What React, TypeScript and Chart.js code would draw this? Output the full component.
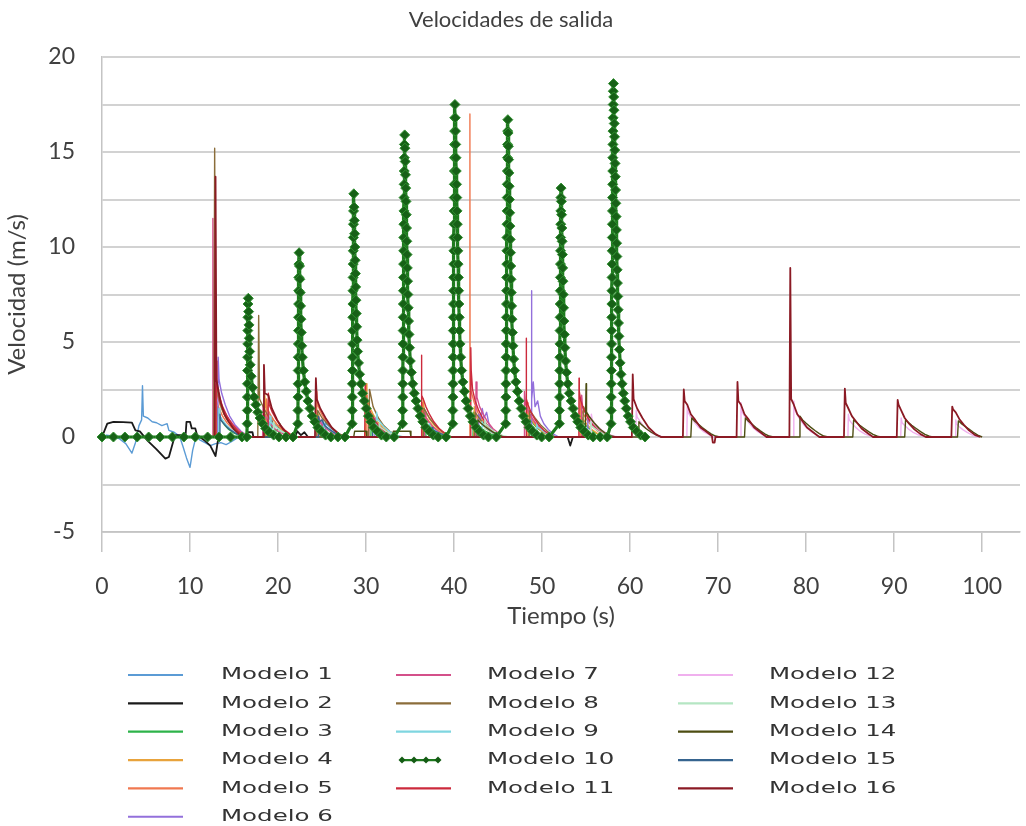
import React, { useEffect, useRef } from 'react';
import { Chart, registerables } from 'chart.js';

Chart.register(...registerables);

type Pt = [number, number];

const TITLE = 'Velocidades de salida';
const X_TITLE = 'Tiempo (s)';
const Y_TITLE = 'Velocidad (m/s)';
const Y_LABELED = [-5, 0, 5, 10, 15, 20];

const seriesNames = [
  'Modelo 1', 'Modelo 2', 'Modelo 3', 'Modelo 4', 'Modelo 5', 'Modelo 6',
  'Modelo 7', 'Modelo 8', 'Modelo 9', 'Modelo 10', 'Modelo 11',
  'Modelo 12', 'Modelo 13', 'Modelo 14', 'Modelo 15', 'Modelo 16',
];

const seriesColors = [
  '#5b9bd5', '#1a1a1a', '#2db34a', '#e8a33c', '#f07850', '#9370db',
  '#d4508a', '#8b6d3a', '#7fd6e0', '#1d7a1d', '#cc2a3c',
  '#f0b0ee', '#b5e6c3', '#4d4d12', '#36648f', '#8b1a24',
];

const modelo1: Pt[] = [[0,0],[0.5,0.1],[1.2,0.05],[2.0,-0.1],[2.7,-0.35],[3.4,-0.85],[3.8,-0.3],[4.2,0.6],[4.5,0.9],[4.6,2.7],[4.7,1.1],[5.2,1.0],[5.7,0.8],[6.2,0.75],[6.8,0.6],[7.4,0.7],[7.6,0.35],[8.2,0.25],[8.8,0.05],[9.2,-0.5],[9.6,-1.1],[10.0,-1.6],[10.3,-0.7],[10.7,0.05],[11.1,-0.15],[11.7,-0.3],[12.3,-0.45],[12.9,-0.35],[13.5,-0.3],[14.1,-0.4],[14.7,-0.25],[15.2,-0.1],[15.5,0],[19.25,0],[19.3,1.0],[19.4,0.75],[19.7,0.6],[20.1,0.42],[20.6,0.25],[21.2,0.1],[21.8,0],[25.35,0],[25.4,0.9],[25.5,0.68],[25.8,0.55],[26.2,0.38],[26.7,0.22],[27.3,0.08],[27.9,0]];

const modelo2: Pt[] = [[0,0],[0.6,0.7],[1.3,0.8],[2.4,0.78],[3.4,0.76],[3.8,0.35],[4.3,0.3],[5.2,-0.2],[6.2,-0.65],[7.2,-1.14],[7.6,-1.05],[8.3,0.1],[9.5,0.1],[9.6,0.8],[10.0,0.8],[10.2,0.45],[10.6,0.45],[10.8,0.1],[11.7,-0.2],[12.3,-0.45],[12.9,-1.0],[13.2,-0.1],[13.6,0],[16.4,0],[16.5,0.25],[17.1,0.25],[17.2,0],[21.9,0],[22.2,0.3],[22.6,0.1],[23.0,0.25],[23.4,0],[52.9,0],[53.2,-0.45],[53.5,0],[56.0,0]];

const modelo3: Pt[] = [[13.05,0],[13.1,1.6],[13.2,1.2],[13.5,0.9],[13.9,0.65],[14.4,0.4],[15.0,0.2],[15.7,0.07],[16.2,0],[18.55,0],[18.6,1.2],[18.7,0.85],[19.0,0.7],[19.4,0.5],[19.9,0.3],[20.2,0.7],[20.3,0.35],[20.9,0.15],[21.5,0.05],[22.0,0],[30.55,0],[30.6,0.8],[30.7,0.6],[31.0,0.45],[31.5,0.3],[32.1,0.15],[32.8,0.05],[33.3,0],[36.75,0],[36.8,0.9],[36.9,0.65],[37.2,0.5],[37.7,0.3],[38.3,0.15],[39.0,0.05],[39.5,0],[42.15,0],[42.2,1.3],[42.3,0.95],[42.6,0.75],[43.0,0.5],[43.6,0.3],[44.2,0.15],[44.9,0.05],[45.4,0],[48.55,0],[48.6,1.2],[48.7,0.9],[49.0,0.7],[49.5,0.45],[50.1,0.25],[50.7,0.1],[51.3,0],[54.55,0],[54.6,1.0],[54.7,0.75],[55.0,0.6],[55.5,0.4],[56.1,0.2],[56.8,0.07],[57.3,0]];

const modelo4: Pt[] = [[12.95,0],[13.0,3.0],[13.1,2.2],[13.4,1.7],[13.8,1.25],[14.3,0.85],[14.9,0.5],[15.6,0.25],[16.3,0.08],[16.8,0],[18.45,0],[18.5,2.2],[18.6,1.6],[18.9,1.3],[19.3,1.0],[19.8,0.7],[20.4,0.4],[21.1,0.18],[21.8,0.05],[22.3,0],[24.55,0],[24.6,1.2],[24.7,0.9],[25.0,0.75],[25.5,0.5],[26.1,0.3],[26.8,0.12],[27.4,0],[29.95,0],[30.0,2.8],[30.1,2.0],[30.4,1.6],[30.8,1.2],[31.3,0.8],[31.9,0.5],[32.6,0.22],[33.3,0.07],[33.8,0],[36.45,0],[36.5,2.0],[36.6,1.5],[36.9,1.2],[37.3,0.9],[37.8,0.6],[38.4,0.35],[39.1,0.12],[39.7,0],[42.25,0],[42.3,1.6],[42.4,1.2],[42.7,0.95],[43.1,0.7],[43.6,0.45],[44.2,0.25],[44.9,0.08],[45.4,0],[48.35,0],[48.4,1.5],[48.5,1.1],[48.8,0.9],[49.2,0.65],[49.7,0.4],[50.3,0.2],[51.0,0.06],[51.5,0],[54.35,0],[54.4,1.4],[54.5,1.05],[54.8,0.85],[55.2,0.6],[55.7,0.38],[56.3,0.18],[57.0,0.05],[57.5,0]];

const modelo5: Pt[] = [[12.85,0],[12.9,2.6],[13.0,1.9],[13.3,1.5],[13.7,1.1],[14.2,0.75],[14.8,0.45],[15.5,0.2],[16.2,0.05],[16.7,0],[18.65,0],[18.7,2.0],[18.8,1.5],[19.1,1.2],[19.5,0.9],[20.0,0.6],[20.6,0.35],[21.3,0.12],[21.9,0],[24.35,0],[24.4,2.4],[24.5,1.7],[24.8,1.35],[25.2,1.0],[25.7,0.7],[26.3,0.4],[27.0,0.15],[27.6,0],[30.05,0],[30.1,2.2],[30.2,1.6],[30.5,1.3],[30.9,0.95],[31.4,0.65],[32.0,0.38],[32.7,0.14],[33.3,0],[36.35,0],[36.4,1.8],[36.5,1.3],[36.8,1.05],[37.2,0.8],[37.7,0.52],[38.3,0.3],[39.0,0.1],[39.6,0],[41.78,0],[41.8,17.0],[41.82,2.6],[42.0,2.3],[42.3,1.8],[42.7,1.3],[43.2,0.9],[43.8,0.55],[44.5,0.25],[45.2,0.08],[45.7,0],[48.25,0],[48.3,1.8],[48.4,1.3],[48.7,1.05],[49.1,0.8],[49.6,0.52],[50.2,0.3],[50.9,0.1],[51.5,0],[54.25,0],[54.3,2.0],[54.4,1.5],[54.7,1.2],[55.1,0.9],[55.6,0.6],[56.2,0.35],[56.9,0.12],[57.5,0]];

const modelo6: Pt[] = [[13.15,0],[13.2,4.2],[13.3,3.0],[13.6,2.3],[14.0,1.7],[14.5,1.1],[15.1,0.65],[15.8,0.3],[16.5,0.08],[17.0,0],[18.85,0],[18.9,1.3],[19.0,1.0],[19.3,0.8],[19.7,0.6],[20.2,0.38],[20.8,0.18],[21.5,0.05],[22.0,0],[24.95,0],[25.0,0.9],[25.1,0.7],[25.4,0.55],[25.9,0.35],[26.5,0.18],[27.2,0.05],[27.7,0],[30.95,0],[31.0,1.0],[31.1,0.75],[31.4,0.6],[31.9,0.4],[32.5,0.2],[33.2,0.06],[33.7,0],[42.75,0],[42.8,1.2],[43.0,0.9],[43.2,1.5],[43.4,1.0],[43.7,1.3],[44.0,0.6],[44.3,0.4],[44.6,0.15],[45.0,0],[48.78,0],[48.8,7.7],[48.83,2.0],[49.0,2.9],[49.2,1.6],[49.5,1.9],[49.8,1.1],[50.2,0.7],[50.7,0.4],[51.3,0.15],[51.9,0],[55.15,0],[55.2,1.2],[55.3,0.9],[55.6,0.7],[56.0,0.5],[56.5,0.3],[57.1,0.12],[57.7,0]];

const modelo7: Pt[] = [[12.58,0],[12.6,11.5],[12.65,3.5],[12.9,2.5],[13.3,1.9],[13.8,1.4],[14.4,0.95],[15.0,0.6],[15.7,0.3],[16.4,0.1],[17.0,0],[18.25,0],[18.3,1.6],[18.4,1.2],[18.7,0.95],[19.1,0.7],[19.6,0.45],[20.2,0.25],[20.9,0.08],[21.4,0],[24.65,0],[24.7,1.0],[24.8,0.75],[25.1,0.6],[25.6,0.4],[26.2,0.2],[26.9,0.06],[27.4,0],[30.25,0],[30.3,1.4],[30.4,1.05],[30.7,0.85],[31.1,0.6],[31.6,0.38],[32.2,0.18],[32.9,0.05],[33.4,0],[36.65,0],[36.7,1.3],[36.8,1.0],[37.1,0.8],[37.5,0.55],[38.0,0.35],[38.6,0.15],[39.3,0.04],[39.8,0],[42.45,0],[42.5,2.9],[42.6,2.1],[42.9,1.6],[43.3,1.2],[43.8,0.8],[44.4,0.45],[45.1,0.18],[45.7,0],[47.95,0],[48.0,2.4],[48.1,1.8],[48.4,1.4],[48.8,1.05],[49.3,0.7],[49.9,0.4],[50.6,0.15],[51.2,0],[54.45,0],[54.5,2.2],[54.6,1.6],[54.9,1.3],[55.3,0.95],[55.8,0.65],[56.4,0.35],[57.1,0.12],[57.7,0]];

const modelo8: Pt[] = [[12.7,0],[12.8,15.2],[12.9,3.5],[13.2,2.2],[13.6,1.5],[14.1,1.0],[14.7,0.6],[15.3,0.3],[16.0,0.1],[16.5,0],[17.7,0],[17.8,6.4],[17.9,2.0],[18.4,1.5],[19.0,1.0],[19.7,0.6],[20.4,0.3],[21.2,0.05],[21.6,0],[24.4,0],[24.5,1.4],[25.0,1.0],[25.6,0.7],[26.3,0.4],[27.0,0.15],[27.6,0],[30.3,0],[30.4,2.5],[30.8,1.6],[31.4,1.0],[32.0,0.6],[32.7,0.3],[33.4,0.1],[34.0,0],[36.5,0],[36.6,1.5],[37.2,1.0],[37.9,0.6],[38.6,0.3],[39.3,0.05],[39.8,0],[42.3,0],[42.4,1.3],[43.0,0.9],[43.7,0.6],[44.4,0.3],[45.2,0.05],[45.6,0],[48.5,0],[48.6,1.4],[49.2,1.0],[49.9,0.6],[50.6,0.3],[51.4,0],[54.6,0],[54.7,1.6],[55.3,1.1],[56.0,0.7],[56.7,0.35],[57.4,0.1],[57.9,0]];

const modelo9: Pt[] = [[13.25,0],[13.3,1.5],[13.4,1.1],[13.7,0.9],[14.1,0.65],[14.6,0.42],[15.2,0.22],[15.9,0.07],[16.4,0],[19.05,0],[19.1,1.1],[19.2,0.8],[19.5,0.65],[19.9,0.48],[20.4,0.3],[21.0,0.15],[21.7,0.04],[22.2,0],[25.15,0],[25.2,0.8],[25.3,0.6],[25.6,0.48],[26.1,0.3],[26.7,0.15],[27.4,0.04],[27.9,0],[31.15,0],[31.2,1.3],[31.3,0.95],[31.6,0.78],[32.0,0.55],[32.5,0.35],[33.1,0.17],[33.8,0.05],[34.3,0],[37.15,0],[37.2,0.7],[37.3,0.52],[37.6,0.42],[38.1,0.26],[38.7,0.12],[39.4,0.03],[39.9,0],[43.15,0],[43.2,0.8],[43.3,0.6],[43.6,0.48],[44.1,0.3],[44.7,0.15],[45.4,0.04],[45.9,0],[49.35,0],[49.4,0.7],[49.5,0.52],[49.8,0.42],[50.3,0.26],[50.9,0.12],[51.6,0.03],[52.1,0]];

const modelo10Base: Pt[] = [[0,0],[1.3,0],[2.6,0],[4.0,0],[5.3,0],[6.6,0],[8.0,0],[9.3,0],[10.6,0],[12.0,0],[13.3,0],[14.6,0],[15.9,0],[16.45,0]];
const modelo10Peak1: Pt[] = [[16.5,0.7],[16.51,1.4],[16.52,2.1],[16.53,2.8],[16.54,3.5],[16.55,4.2],[16.56,4.9],[16.57,5.6],[16.58,6.3],[16.59,7.0],[16.62,7.3],[16.66,6.6],[16.7,5.9],[16.74,5.2],[16.78,4.5],[16.84,3.8],[16.95,3.2],[17.1,2.6],[17.28,2.1],[17.48,1.7],[17.7,1.3],[17.95,1.0],[18.25,0.7],[18.6,0.45],[19.0,0.25],[19.5,0.1],[20.1,0],[20.9,0],[21.7,0]];
const modelo10Peak2: Pt[] = [[22.25,0.7],[22.26,1.4],[22.27,2.1],[22.28,2.8],[22.29,3.5],[22.3,4.2],[22.31,4.9],[22.32,5.6],[22.33,6.3],[22.34,7.0],[22.35,7.7],[22.36,8.4],[22.37,9.1],[22.4,9.7],[22.44,9.0],[22.48,8.3],[22.52,7.6],[22.56,6.9],[22.6,6.2],[22.64,5.5],[22.69,4.8],[22.76,4.2],[22.88,3.5],[23.03,2.9],[23.2,2.4],[23.4,1.9],[23.63,1.5],[23.88,1.1],[24.18,0.8],[24.53,0.5],[24.93,0.3],[25.4,0.1],[26.0,0],[26.8,0],[27.6,0]];
const modelo10Peak3: Pt[] = [[28.42,0.7],[28.43,1.4],[28.44,2.1],[28.45,2.8],[28.46,3.5],[28.47,4.2],[28.48,4.9],[28.49,5.6],[28.5,6.3],[28.51,7.0],[28.52,7.7],[28.53,8.4],[28.54,9.1],[28.55,9.8],[28.56,10.5],[28.57,11.2],[28.58,11.9],[28.61,12.8],[28.64,12.1],[28.67,11.4],[28.7,10.7],[28.73,10.0],[28.76,9.3],[28.79,8.6],[28.82,7.9],[28.85,7.2],[28.89,6.5],[28.93,5.8],[28.98,5.1],[29.04,4.5],[29.14,3.9],[29.27,3.3],[29.42,2.8],[29.6,2.3],[29.8,1.9],[30.02,1.5],[30.27,1.1],[30.55,0.8],[30.88,0.5],[31.28,0.3],[31.75,0.1],[32.3,0],[33.2,0]];
const modelo10Peak4: Pt[] = [[34.15,0.7],[34.16,1.4],[34.17,2.1],[34.18,2.8],[34.19,3.5],[34.2,4.2],[34.21,4.9],[34.22,5.6],[34.23,6.3],[34.24,7.0],[34.25,7.7],[34.26,8.4],[34.27,9.1],[34.28,9.8],[34.29,10.5],[34.3,11.2],[34.31,11.9],[34.32,12.6],[34.33,13.3],[34.34,14.0],[34.35,14.7],[34.36,15.4],[34.39,15.9],[34.42,15.2],[34.45,14.5],[34.48,13.8],[34.51,13.1],[34.54,12.4],[34.57,11.7],[34.6,11.0],[34.63,10.3],[34.66,9.6],[34.69,8.9],[34.72,8.2],[34.75,7.5],[34.79,6.8],[34.83,6.1],[34.88,5.4],[34.94,4.7],[35.03,4.0],[35.15,3.4],[35.3,2.8],[35.48,2.3],[35.68,1.9],[35.9,1.5],[36.15,1.1],[36.45,0.8],[36.8,0.5],[37.2,0.3],[37.65,0.1],[38.2,0],[39.1,0]];
const modelo10Peak5: Pt[] = [[39.85,0.7],[39.86,1.4],[39.87,2.1],[39.88,2.8],[39.89,3.5],[39.9,4.2],[39.91,4.9],[39.92,5.6],[39.93,6.3],[39.94,7.0],[39.95,7.7],[39.96,8.4],[39.97,9.1],[39.98,9.8],[39.99,10.5],[40.0,11.2],[40.01,11.9],[40.02,12.6],[40.03,13.3],[40.04,14.0],[40.05,14.7],[40.06,15.4],[40.07,16.1],[40.08,16.8],[40.1,17.5],[40.13,16.8],[40.16,16.1],[40.19,15.4],[40.22,14.7],[40.25,14.0],[40.28,13.3],[40.31,12.6],[40.34,11.9],[40.37,11.2],[40.4,10.5],[40.43,9.8],[40.46,9.1],[40.49,8.4],[40.52,7.7],[40.55,7.0],[40.59,6.3],[40.63,5.6],[40.68,4.9],[40.75,4.2],[40.86,3.5],[41.0,2.9],[41.17,2.4],[41.37,1.9],[41.6,1.5],[41.85,1.1],[42.15,0.8],[42.5,0.5],[42.9,0.3],[43.35,0.1],[43.9,0],[44.8,0]];
const modelo10Peak6: Pt[] = [[45.87,0.7],[45.88,1.4],[45.89,2.1],[45.9,2.8],[45.91,3.5],[45.92,4.2],[45.93,4.9],[45.94,5.6],[45.95,6.3],[45.96,7.0],[45.97,7.7],[45.98,8.4],[45.99,9.1],[46.0,9.8],[46.01,10.5],[46.02,11.2],[46.03,11.9],[46.04,12.6],[46.05,13.3],[46.06,14.0],[46.07,14.7],[46.08,15.4],[46.09,16.1],[46.11,16.7],[46.14,16.0],[46.17,15.3],[46.2,14.6],[46.23,13.9],[46.26,13.2],[46.29,12.5],[46.32,11.8],[46.35,11.1],[46.38,10.4],[46.41,9.7],[46.44,9.0],[46.47,8.3],[46.5,7.6],[46.54,6.9],[46.58,6.2],[46.63,5.5],[46.69,4.8],[46.77,4.1],[46.88,3.5],[47.02,2.9],[47.2,2.4],[47.4,1.9],[47.63,1.5],[47.88,1.1],[48.18,0.8],[48.53,0.5],[48.93,0.3],[49.4,0.1],[49.95,0],[50.8,0]];
const modelo10Peak7: Pt[] = [[51.97,0.7],[51.98,1.4],[51.99,2.1],[52.0,2.8],[52.01,3.5],[52.02,4.2],[52.03,4.9],[52.04,5.6],[52.05,6.3],[52.06,7.0],[52.07,7.7],[52.08,8.4],[52.09,9.1],[52.1,9.8],[52.11,10.5],[52.12,11.2],[52.13,11.9],[52.14,12.6],[52.16,13.1],[52.19,12.4],[52.22,11.7],[52.25,11.0],[52.28,10.3],[52.31,9.6],[52.34,8.9],[52.37,8.2],[52.4,7.5],[52.44,6.8],[52.48,6.1],[52.53,5.4],[52.59,4.7],[52.67,4.0],[52.78,3.4],[52.92,2.8],[53.1,2.3],[53.3,1.9],[53.52,1.5],[53.77,1.1],[54.05,0.8],[54.4,0.5],[54.8,0.3],[55.25,0.1],[55.8,0],[56.6,0],[57.4,0]];
const modelo10Peak8: Pt[] = [[57.84,0.7],[57.85,1.4],[57.86,2.1],[57.87,2.8],[57.88,3.5],[57.89,4.2],[57.9,4.9],[57.91,5.6],[57.92,6.3],[57.93,7.0],[57.94,7.7],[57.95,8.4],[57.96,9.1],[57.97,9.8],[57.98,10.5],[57.99,11.2],[58.0,11.9],[58.01,12.6],[58.02,13.3],[58.03,14.0],[58.04,14.7],[58.05,15.4],[58.06,16.1],[58.07,16.8],[58.08,17.5],[58.09,18.2],[58.11,18.6],[58.14,17.9],[58.17,17.2],[58.2,16.5],[58.23,15.8],[58.26,15.1],[58.29,14.4],[58.32,13.7],[58.35,13.0],[58.38,12.3],[58.41,11.6],[58.44,10.9],[58.47,10.2],[58.5,9.5],[58.53,8.8],[58.56,8.1],[58.6,7.4],[58.64,6.7],[58.68,6.0],[58.73,5.3],[58.79,4.6],[58.87,3.9],[58.97,3.3],[59.09,2.8],[59.23,2.3],[59.39,1.9],[59.57,1.5],[59.79,1.1],[60.05,0.8],[60.37,0.5],[60.75,0.3],[61.2,0.1],[61.7,0]];

const modelo11: Pt[] = [[12.95,0],[13.0,4.0],[13.05,2.8],[13.3,2.2],[13.7,1.6],[14.2,1.1],[14.8,0.65],[15.5,0.3],[16.2,0.08],[16.7,0],[18.85,0],[18.9,2.3],[19.0,1.7],[19.3,1.35],[19.7,1.0],[20.2,0.65],[20.8,0.35],[21.5,0.12],[22.1,0],[29.85,0],[29.9,2.8],[29.95,2.0],[30.2,1.6],[30.6,1.2],[31.1,0.8],[31.7,0.45],[32.4,0.18],[33.0,0],[36.28,0],[36.3,4.3],[36.33,2.2],[36.5,2.0],[36.8,1.6],[37.2,1.2],[37.7,0.8],[38.3,0.45],[39.0,0.18],[39.6,0],[41.88,0],[41.9,4.7],[41.95,3.5],[42.1,2.5],[42.4,1.9],[42.8,1.4],[43.3,0.95],[43.9,0.55],[44.6,0.22],[45.3,0],[48.18,0],[48.2,5.2],[48.23,2.0],[48.4,1.7],[48.7,1.35],[49.1,1.0],[49.6,0.65],[50.2,0.35],[50.9,0.12],[51.5,0],[54.18,0],[54.2,3.1],[54.23,2.4],[54.4,1.9],[54.7,1.5],[55.1,1.1],[55.6,0.7],[56.2,0.38],[56.9,0.12],[57.5,0]];

const modelo12: Pt[] = [[55.55,0],[55.6,1.2],[55.7,0.9],[56.0,0.72],[56.4,0.52],[56.9,0.32],[57.5,0.15],[58.2,0.04],[58.7,0],[60.65,0],[60.7,1.4],[60.8,1.05],[61.1,0.85],[61.5,0.6],[62.0,0.38],[62.6,0.18],[63.3,0.05],[63.8,0],[66.45,0],[66.5,1.7],[66.6,1.3],[66.9,1.05],[67.3,0.78],[67.8,0.5],[68.4,0.27],[69.1,0.09],[69.6,0],[72.55,0],[72.6,1.8],[72.7,1.35],[73.0,1.1],[73.4,0.8],[73.9,0.52],[74.5,0.28],[75.2,0.09],[75.7,0],[78.55,0],[78.6,1.9],[78.7,1.45],[79.0,1.15],[79.4,0.85],[79.9,0.55],[80.5,0.3],[81.2,0.1],[81.7,0],[84.75,0],[84.8,1.2],[84.9,0.9],[85.2,0.72],[85.6,0.52],[86.1,0.32],[86.7,0.15],[87.4,0.04],[87.9,0],[90.75,0],[90.8,1.0],[90.9,0.75],[91.2,0.6],[91.6,0.43],[92.1,0.26],[92.7,0.12],[93.4,0.03],[93.9,0],[96.95,0],[97.0,0.9],[97.1,0.68],[97.4,0.54],[97.8,0.39],[98.3,0.24],[98.9,0.1],[99.5,0]];

const modelo13: Pt[] = [[19.45,0],[19.5,0.8],[19.6,0.6],[19.9,0.48],[20.4,0.3],[21.0,0.15],[21.7,0.04],[22.2,0],[31.45,0],[31.5,0.7],[31.6,0.52],[31.9,0.42],[32.4,0.26],[33.0,0.12],[33.7,0.03],[34.2,0],[43.45,0],[43.5,0.9],[43.6,0.68],[43.9,0.54],[44.4,0.34],[45.0,0.17],[45.7,0.05],[46.2,0],[55.45,0],[55.5,0.8],[55.6,0.6],[55.9,0.48],[56.4,0.3],[57.0,0.15],[57.7,0.04],[58.2,0]];

const modelo14: Pt[] = [[0,0],[28.6,0],[28.7,0.3],[30.0,0.3],[30.1,0],[33.0,0],[33.1,0.3],[35.0,0.3],[35.1,0],[42.6,0],[42.7,0.9],[43.0,0.75],[43.5,0.55],[44.1,0.35],[44.8,0.15],[45.5,0.03],[46.0,0],[54.9,0],[55.0,2.8],[55.05,1.3],[55.4,1.05],[55.9,0.75],[56.5,0.45],[57.2,0.2],[57.9,0.05],[58.4,0],[60.9,0],[61.0,0.8],[61.3,0.65],[61.8,0.45],[62.4,0.25],[63.0,0.1],[63.6,0],[66.9,0],[67.0,1.0],[67.3,0.85],[67.7,0.7],[68.2,0.5],[68.7,0.32],[69.2,0.17],[69.7,0.05],[70.2,0],[73.0,0],[73.1,1.0],[73.4,0.85],[73.8,0.7],[74.3,0.5],[74.8,0.32],[75.3,0.17],[75.8,0.05],[76.3,0],[79.2,0],[79.3,1.1],[79.6,0.9],[80.0,0.72],[80.5,0.52],[81.0,0.34],[81.5,0.18],[82.0,0.05],[82.5,0],[85.3,0],[85.4,0.9],[85.7,0.78],[86.1,0.62],[86.6,0.45],[87.1,0.28],[87.6,0.14],[88.1,0.04],[88.5,0],[91.2,0],[91.3,0.9],[91.6,0.78],[92.0,0.62],[92.5,0.45],[93.0,0.28],[93.5,0.14],[94.0,0.04],[94.4,0],[97.2,0],[97.3,0.85],[97.6,0.72],[98.0,0.58],[98.5,0.42],[99.0,0.25],[99.5,0.1],[100,0]];

const modelo15: Pt[] = [[13.35,0],[13.4,1.2],[13.5,0.9],[13.8,0.72],[14.2,0.52],[14.7,0.33],[15.3,0.17],[16.0,0.05],[16.5,0],[24.55,0],[24.6,1.1],[24.7,0.8],[25.0,0.9],[25.3,0.6],[25.7,0.45],[26.2,0.28],[26.8,0.12],[27.5,0],[30.75,0],[30.8,0.8],[30.9,0.6],[31.2,0.48],[31.7,0.3],[32.3,0.15],[33.0,0.04],[33.5,0],[37.45,0],[37.5,0.5],[37.6,0.38],[37.9,0.3],[38.4,0.19],[39.0,0.09],[39.7,0]];

const modelo16: Pt[] = [[12.8,0],[12.9,13.7],[13.0,3.0],[13.2,2.5],[13.5,1.8],[13.9,1.2],[14.4,0.8],[15.0,0.4],[15.7,0.1],[16.2,0],[18.3,0],[18.4,3.8],[18.5,2.3],[18.9,2.2],[19.3,1.5],[19.9,0.9],[20.6,0.4],[21.3,0.1],[21.8,0],[24.2,0],[24.3,3.1],[24.4,2.0],[24.8,1.5],[25.4,1.0],[26.1,0.5],[26.9,0.15],[27.5,0],[60.2,0],[60.3,3.3],[60.4,2.0],[60.8,1.5],[61.4,1.0],[62.1,0.5],[62.9,0.15],[63.5,0],[66.0,0],[66.1,2.5],[66.2,1.9],[66.5,1.7],[66.9,1.2],[67.4,0.9],[68.0,0.5],[68.6,0.3],[69.3,0.05],[69.4,-0.3],[69.6,-0.3],[69.7,0],[72.1,0],[72.2,2.9],[72.3,1.9],[72.6,1.7],[73.0,1.2],[73.5,0.9],[74.1,0.5],[74.8,0.25],[75.5,0],[78.1,0],[78.2,8.9],[78.3,2.0],[78.6,1.7],[79.0,1.2],[79.5,0.9],[80.1,0.5],[80.8,0.25],[81.5,0],[84.3,0],[84.4,2.55],[84.5,1.8],[84.8,1.5],[85.2,1.1],[85.7,0.8],[86.3,0.45],[87.0,0.2],[87.6,0],[90.3,0],[90.4,1.95],[90.5,1.7],[90.8,1.4],[91.2,1.0],[91.7,0.7],[92.3,0.4],[93.0,0.15],[93.6,0],[96.5,0],[96.6,1.6],[96.7,1.45],[97.0,1.3],[97.4,0.95],[97.9,0.65],[98.5,0.35],[99.2,0.1],[99.8,0]];

const modelo10: Pt[] = [
  ...modelo10Base, ...modelo10Peak1, ...modelo10Peak2, ...modelo10Peak3, ...modelo10Peak4,
  ...modelo10Peak5, ...modelo10Peak6, ...modelo10Peak7, ...modelo10Peak8,
];

const seriesData: Pt[][] = [
  modelo1, modelo2, modelo3, modelo4, modelo5, modelo6, modelo7, modelo8,
  modelo9, modelo10, modelo11, modelo12, modelo13, modelo14, modelo15, modelo16,
];

const M10_INDEX = 9;

const annotationPlugin = {
  id: 'customText',
  afterDraw(chart: any) {
    const ctx = chart.ctx as CanvasRenderingContext2D;
    ctx.save();
    ctx.fillStyle = '#404040';
    ctx.textAlign = 'center';
    ctx.textBaseline = 'alphabetic';
    ctx.font = '22px Lato';
    ctx.fillText(TITLE, 511, 27);
    const area = chart.chartArea;
    ctx.font = '24px Lato';
    ctx.fillText(X_TITLE, (area.left + area.right) / 2, 624);
    ctx.save();
    ctx.translate(25, (area.top + area.bottom) / 2);
    ctx.rotate(-Math.PI / 2);
    ctx.fillText(Y_TITLE, 0, 0);
    ctx.restore();

    // legend (3 columns, filled column by column)
    const swatchX = [128, 396, 678];
    const textX = [221, 487, 769];
    ctx.textAlign = 'left';
    ctx.textBaseline = 'middle';
    ctx.font = '16px "DejaVu Sans"';
    seriesNames.forEach((name, i) => {
      const col = i < 6 ? 0 : i < 11 ? 1 : 2;
      const row = i < 6 ? i : i < 11 ? i - 6 : i - 11;
      const y = 675 + row * 28.35;
      ctx.strokeStyle = seriesColors[i];
      ctx.lineWidth = 2.2;
      ctx.beginPath();
      if (i === M10_INDEX) {
        ctx.moveTo(400, y);
        ctx.lineTo(440, y);
        ctx.stroke();
        ctx.fillStyle = '#145c14';
        [402, 414, 426, 438].forEach((px) => {
          ctx.beginPath();
          ctx.moveTo(px, y - 3.5);
          ctx.lineTo(px + 3.5, y);
          ctx.lineTo(px, y + 3.5);
          ctx.lineTo(px - 3.5, y);
          ctx.closePath();
          ctx.fill();
        });
      } else {
        ctx.moveTo(swatchX[col], y);
        ctx.lineTo(swatchX[col] + 55, y);
        ctx.stroke();
      }
      ctx.save();
      ctx.translate(textX[col], y);
      ctx.scale(1.53, 1);
      ctx.fillStyle = '#333333';
      ctx.fillText(name, 0, 0);
      ctx.restore();
    });
    ctx.restore();
  },
};

export default function App() {
  const canvasRef = useRef<HTMLCanvasElement | null>(null);

  useEffect(() => {
    const canvas = canvasRef.current;
    if (!canvas) return;
    const datasets = seriesData.map((pts, i) => {
      const isM10 = i === M10_INDEX;
      return {
        label: seriesNames[i],
        data: pts.map(([x, y]) => ({ x, y })),
        showLine: true,
        borderColor: seriesColors[i],
        backgroundColor: seriesColors[i],
        borderWidth: isM10 ? 3.2 : i === 15 || i === 1 ? 1.8 : 1.4,
        borderJoinStyle: 'round' as const,
        pointRadius: isM10 ? 5 : 0,
        pointStyle: isM10 ? 'rectRot' : 'circle',
        pointBackgroundColor: isM10 ? '#176117' : seriesColors[i],
        pointBorderColor: isM10 ? '#2f8f2f' : seriesColors[i],
        pointBorderWidth: isM10 ? 1 : 0,
        pointHoverRadius: 0,
        order: isM10 ? -1 : 100 - i,
        clip: isM10 ? false : undefined,
      };
    });

    const chart = new Chart(canvas, {
      type: 'scatter',
      data: { datasets: datasets as any },
      options: {
        animation: false,
        responsive: false,
        devicePixelRatio: 1,
        events: [],
        layout: { padding: { left: 0, top: 57, right: 0, bottom: 0 } },
        plugins: {
          legend: { display: false },
          tooltip: { enabled: false },
          title: { display: false },
        },
        scales: {
          x: {
            type: 'linear',
            min: 0,
            max: 104.3,
            afterFit: (scale: any) => { scale.height = 294; },
            ticks: {
              stepSize: 10,
              includeBounds: false,
              maxRotation: 0,
              autoSkip: false,
              padding: 21,
              color: '#404040',
              font: { family: 'Lato', size: 23 },
            },
            grid: {
              drawOnChartArea: false,
              drawTicks: true,
              tickLength: 20,
              color: '#c4c4c4',
              lineWidth: 1.5,
            },
            border: { color: '#c4c4c4', width: 1.5 },
          },
          y: {
            type: 'linear',
            min: -5,
            max: 20,
            afterFit: (scale: any) => { scale.width = 102; },
            ticks: {
              stepSize: 2.5,
              padding: 27,
              color: '#404040',
              font: { family: 'Lato', size: 23 },
              callback: (v: any) => (Y_LABELED.includes(Number(v)) ? String(v) : ''),
            },
            grid: {
              drawTicks: false,
              color: '#d2d2d2',
              lineWidth: 2,
            },
            border: { color: '#c4c4c4', width: 1.5 },
          },
        },
      },
      plugins: [annotationPlugin],
    });
    return () => chart.destroy();
  }, []);

  return (
    <div style={{ position: 'fixed', left: 0, top: 0, width: 1026, height: 826, background: '#ffffff' }}>
      <canvas ref={canvasRef} width={1026} height={826} style={{ display: 'block' }} />
    </div>
  );
}
